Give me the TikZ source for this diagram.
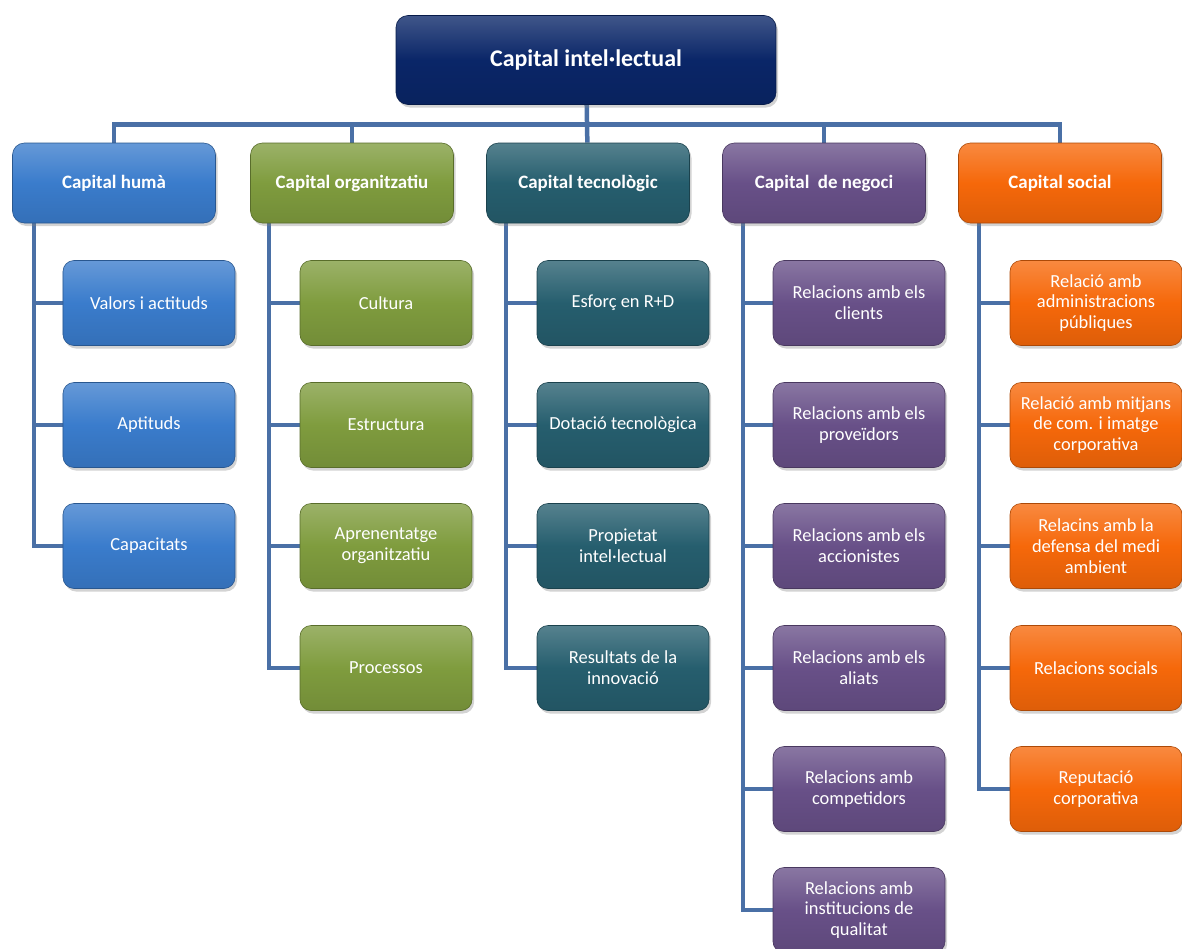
\documentclass[tikz,border=0pt]{standalone}
\usepackage{fontspec}
\setmainfont{Carlito}
\usepackage{tikz}
\usetikzlibrary{shadows, backgrounds}
\definecolor{rootblue}{RGB}{10,38,104}
\definecolor{humblue}{RGB}{58,124,204}
\definecolor{orggreen}{RGB}{127,156,62}
\definecolor{tecteal}{RGB}{38,94,110}
\definecolor{negpurple}{RGB}{104,80,136}
\definecolor{socorange}{RGB}{246,104,10}
\definecolor{linkblue}{RGB}{74,112,166}

\begin{document}
\begin{tikzpicture}[x=1bp, y=-1bp,
    paint/.style={draw=#1!70!black, top color=#1!78!white, bottom color=#1!90!black, middle color=#1}]
    \tikzstyle{rootbox} = [rectangle, rounded corners=12bp, line width=0.6bp, text=white, align=center, minimum width=380bp, minimum height=89bp, font=\fontsize{24}{28}\selectfont\bfseries, drop shadow={shadow xshift=2bp, shadow yshift=-3bp, opacity=0.35}]
    \tikzstyle{capbox} = [rectangle, rounded corners=12bp, line width=0.6bp, text=white, align=center, minimum width=203bp, minimum height=80bp, font=\fontsize{19}{22}\selectfont\bfseries, drop shadow={shadow xshift=2bp, shadow yshift=-3bp, opacity=0.35}]
    \tikzstyle{subbox} = [rectangle, rounded corners=11bp, line width=0.6bp, text=white, align=center, minimum width=172bp, minimum height=85bp, font=\fontsize{18.5}{20.8}\selectfont, drop shadow={shadow xshift=2bp, shadow yshift=-3bp, opacity=0.35}]
    \tikzstyle{link} = [draw=linkblue, line width=4.5bp]

    \useasboundingbox (0,0) rectangle (1182,949);

    \node[rootbox, paint=rootblue] (root) at (586,60) {Capital intel·lectual};

    \node[capbox, paint=humblue] (hum) at (114,183) {Capital humà};
    \node[capbox, paint=orggreen] (org) at (352,183) {Capital organitzatiu};
    \node[capbox, paint=tecteal] (tec) at (588,183) {Capital tecnològic};
    \node[capbox, paint=negpurple] (neg) at (824,183) {Capital\ \ de negoci};
    \node[capbox, paint=socorange] (soc) at (1060,183) {Capital social};

    % capital humà
    \node[subbox, paint=humblue] (hum1) at (149,303) {Valors i actituds};
    \node[subbox, paint=humblue] (hum2) at (149,425) {Aptituds};
    \node[subbox, paint=humblue] (hum3) at (149,546) {Capacitats};

    % capital organitzatiu
    \node[subbox, paint=orggreen] (org1) at (386,303) {Cultura};
    \node[subbox, paint=orggreen] (org2) at (386,425) {Estructura};
    \node[subbox, paint=orggreen] (org3) at (386,546) {Aprenentatge\\organitzatiu};
    \node[subbox, paint=orggreen] (org4) at (386,668) {Processos};

    % capital tecnològic
    \node[subbox, paint=tecteal] (tec1) at (623,303) {Esforç en R+D};
    \node[subbox, paint=tecteal] (tec2) at (623,425) {Dotació tecnològica};
    \node[subbox, paint=tecteal] (tec3) at (623,546) {Propietat\\intel·lectual};
    \node[subbox, paint=tecteal] (tec4) at (623,668) {Resultats de la\\innovació};

    % capital de negoci
    \node[subbox, paint=negpurple] (neg1) at (859,303) {Relacions amb els\\clients};
    \node[subbox, paint=negpurple] (neg2) at (859,425) {Relacions amb els\\proveïdors};
    \node[subbox, paint=negpurple] (neg3) at (859,546) {Relacions amb els\\accionistes};
    \node[subbox, paint=negpurple] (neg4) at (859,668) {Relacions amb els\\aliats};
    \node[subbox, paint=negpurple] (neg5) at (859,789) {Relacions amb\\competidors};
    \node[subbox, paint=negpurple] (neg6) at (859,910) {Relacions amb\\institucions de\\qualitat};

    % capital social
    \node[subbox, paint=socorange] (soc1) at (1096,303) {Relació amb\\administracions\\públiques};
    \node[subbox, paint=socorange] (soc2) at (1096,425) {Relació amb mitjans\\de com. i imatge\\corporativa};
    \node[subbox, paint=socorange] (soc3) at (1096,546) {Relacins amb la\\defensa del medi\\ambient};
    \node[subbox, paint=socorange] (soc4) at (1096,668) {Relacions socials};
    \node[subbox, paint=socorange] (soc5) at (1096,789) {Reputació\\corporativa};

    % connectors, behind the boxes
    \begin{scope}[on background layer]
        \draw[link] (root) -- (tec);
        \draw[link] (hum.north) -- ++(0,-18) -| (soc.north);
        \draw[link] (org.north) -- ++(0,-18);
        \draw[link] (neg.north) -- ++(0,-18);

        \draw[link] ([xshift=22bp]hum.south west) |- (hum1.west);
        \draw[link] ([xshift=22bp]hum.south west) |- (hum2.west);
        \draw[link] ([xshift=22bp]hum.south west) |- (hum3.west);

        \draw[link] ([xshift=19bp]org.south west) |- (org1.west);
        \draw[link] ([xshift=19bp]org.south west) |- (org2.west);
        \draw[link] ([xshift=19bp]org.south west) |- (org3.west);
        \draw[link] ([xshift=19bp]org.south west) |- (org4.west);

        \draw[link] ([xshift=20bp]tec.south west) |- (tec1.west);
        \draw[link] ([xshift=20bp]tec.south west) |- (tec2.west);
        \draw[link] ([xshift=20bp]tec.south west) |- (tec3.west);
        \draw[link] ([xshift=20bp]tec.south west) |- (tec4.west);

        \draw[link] ([xshift=21bp]neg.south west) |- (neg1.west);
        \draw[link] ([xshift=21bp]neg.south west) |- (neg2.west);
        \draw[link] ([xshift=21bp]neg.south west) |- (neg3.west);
        \draw[link] ([xshift=21bp]neg.south west) |- (neg4.west);
        \draw[link] ([xshift=21bp]neg.south west) |- (neg5.west);
        \draw[link] ([xshift=21bp]neg.south west) |- (neg6.west);

        \draw[link] ([xshift=21bp]soc.south west) |- (soc1.west);
        \draw[link] ([xshift=21bp]soc.south west) |- (soc2.west);
        \draw[link] ([xshift=21bp]soc.south west) |- (soc3.west);
        \draw[link] ([xshift=21bp]soc.south west) |- (soc4.west);
        \draw[link] ([xshift=21bp]soc.south west) |- (soc5.west);
    \end{scope}
\end{tikzpicture}
\end{document}
